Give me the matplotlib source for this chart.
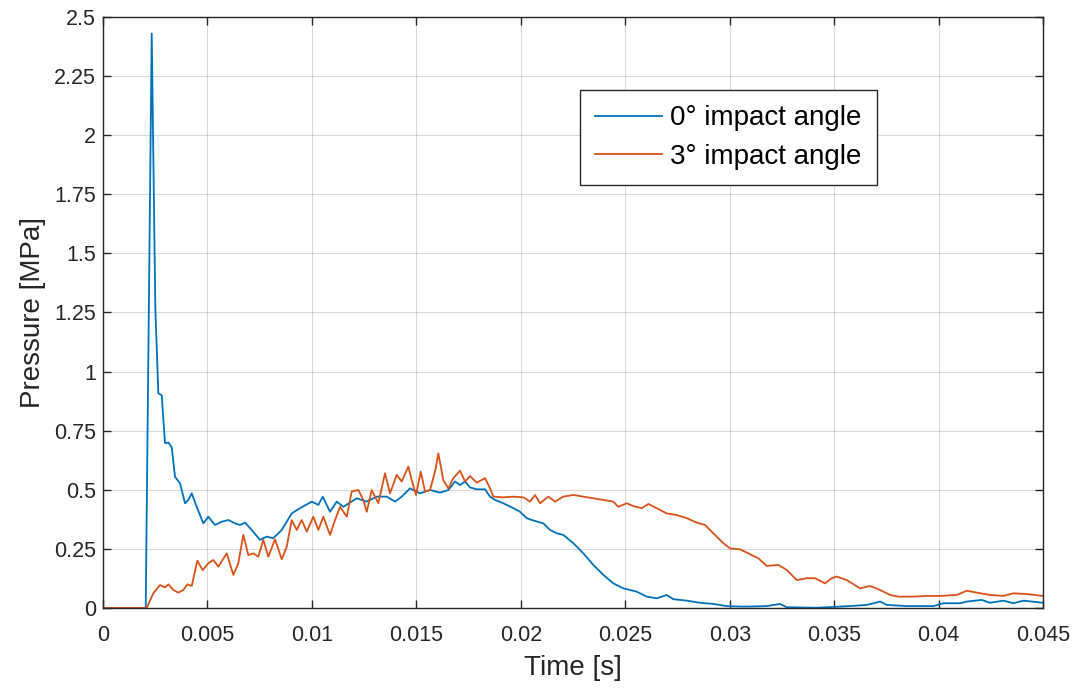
import numpy as np
import matplotlib
matplotlib.use("Agg")
import matplotlib.pyplot as plt
from matplotlib.ticker import FuncFormatter

# Pressure traces (time in s, pressure in MPa)
t_0deg = [0.0, 0.002044, 0.002331, 0.002504, 0.002647, 0.00281, 0.002968, 0.003126,
          0.003289, 0.003447, 0.003686, 0.003926, 0.004084, 0.004246, 0.004486, 0.004802,
          0.005041, 0.005362, 0.005682, 0.006, 0.006319, 0.006559, 0.006798, 0.007119,
          0.007516, 0.007837, 0.008153, 0.008555, 0.009033, 0.009431, 0.009991, 0.010307,
          0.010518, 0.010867, 0.011188, 0.011504, 0.012145, 0.012624, 0.013103, 0.013581,
          0.013979, 0.0143, 0.014697, 0.015176, 0.015654, 0.016133, 0.01653, 0.016851,
          0.01709, 0.01733, 0.017569, 0.01789, 0.018287, 0.018527, 0.018766, 0.019163,
          0.019642, 0.019963, 0.020284, 0.0206, 0.021079, 0.021399, 0.02172, 0.022036,
          0.022515, 0.022993, 0.023472, 0.023951, 0.024429, 0.024908, 0.025549, 0.026028,
          0.026507, 0.026985, 0.027302, 0.027943, 0.02858, 0.029216, 0.029858, 0.030495,
          0.030973, 0.031773, 0.03241, 0.03273, 0.034166, 0.035765, 0.03656, 0.037197,
          0.037517, 0.038475, 0.039748, 0.040227, 0.041026, 0.041347, 0.042065, 0.042463,
          0.0431, 0.043578, 0.044057, 0.045]
p_0deg = [0.0, 0.0, 2.43, 1.27, 0.908, 0.90, 0.697, 0.70,
          0.68, 0.555, 0.527, 0.443, 0.457, 0.485, 0.428, 0.358,
          0.386, 0.351, 0.365, 0.372, 0.358, 0.351, 0.361, 0.33,
          0.288, 0.302, 0.295, 0.33, 0.40, 0.422, 0.45, 0.436,
          0.471, 0.407, 0.45, 0.428, 0.464, 0.45, 0.471, 0.471,
          0.45, 0.471, 0.506, 0.485, 0.499, 0.488, 0.499, 0.535,
          0.52, 0.535, 0.51, 0.502, 0.502, 0.471, 0.457, 0.443,
          0.422, 0.407, 0.38, 0.37, 0.358, 0.33, 0.316, 0.309,
          0.274, 0.231, 0.182, 0.14, 0.104, 0.083, 0.069, 0.048,
          0.041, 0.055, 0.037, 0.031, 0.022, 0.017, 0.008, 0.006,
          0.006, 0.008, 0.017, 0.003, 0.001, 0.008, 0.013, 0.027,
          0.013, 0.008, 0.008, 0.02, 0.02, 0.027, 0.034, 0.022,
          0.031, 0.02, 0.031, 0.022]

t_3deg = [0.0, 0.002092, 0.002408, 0.002729, 0.002968, 0.003126, 0.003365, 0.003605,
          0.003844, 0.004036, 0.004246, 0.004514, 0.004773, 0.005041, 0.00528, 0.00552,
          0.005922, 0.006238, 0.006477, 0.006716, 0.006956, 0.007195, 0.007435, 0.007674,
          0.007913, 0.008234, 0.008555, 0.008794, 0.009033, 0.009273, 0.009512, 0.009752,
          0.010068, 0.010307, 0.010546, 0.010867, 0.011106, 0.011346, 0.011667, 0.011906,
          0.012222, 0.012461, 0.012624, 0.012863, 0.013179, 0.0135, 0.013739, 0.01406,
          0.0143, 0.014616, 0.014778, 0.014984, 0.015209, 0.015415, 0.015654, 0.015894,
          0.016052, 0.016291, 0.01653, 0.01677, 0.01709, 0.01733, 0.017569, 0.01789,
          0.018287, 0.018527, 0.018685, 0.019163, 0.019642, 0.020121, 0.020441, 0.020681,
          0.02092, 0.021317, 0.021638, 0.022036, 0.022515, 0.022993, 0.023472, 0.023951,
          0.024429, 0.024669, 0.025071, 0.025387, 0.025789, 0.026105, 0.026507, 0.026985,
          0.027464, 0.027943, 0.028422, 0.028819, 0.029216, 0.029695, 0.030016, 0.030495,
          0.030892, 0.031371, 0.031773, 0.032328, 0.03273, 0.033209, 0.033688, 0.034085,
          0.034564, 0.034885, 0.035124, 0.035603, 0.03624, 0.036718, 0.037197, 0.037675,
          0.038073, 0.038791, 0.039432, 0.040069, 0.040869, 0.041347, 0.041826, 0.042463,
          0.0431, 0.043578, 0.044218, 0.045]
p_3deg = [0.0, 0.0, 0.062, 0.097, 0.087, 0.10, 0.076, 0.065,
          0.076, 0.10, 0.093, 0.20, 0.16, 0.189, 0.203, 0.175,
          0.231, 0.14, 0.189, 0.309, 0.224, 0.231, 0.217, 0.288,
          0.217, 0.29, 0.206, 0.259, 0.372, 0.33, 0.372, 0.323,
          0.386, 0.33, 0.386, 0.309, 0.372, 0.428, 0.386, 0.493,
          0.499, 0.457, 0.407, 0.499, 0.443, 0.57, 0.485, 0.563,
          0.535, 0.598, 0.541, 0.478, 0.577, 0.493, 0.499, 0.577,
          0.654, 0.541, 0.506, 0.549, 0.581, 0.535, 0.558, 0.53,
          0.549, 0.506, 0.471, 0.468, 0.471, 0.468, 0.45, 0.478,
          0.443, 0.471, 0.45, 0.471, 0.478, 0.471, 0.464, 0.457,
          0.45, 0.428, 0.443, 0.431, 0.422, 0.44, 0.422, 0.40,
          0.393, 0.38, 0.361, 0.351, 0.316, 0.274, 0.252, 0.248,
          0.231, 0.21, 0.178, 0.182, 0.161, 0.118, 0.126, 0.126,
          0.104, 0.126, 0.133, 0.118, 0.083, 0.093, 0.076, 0.055,
          0.048, 0.048, 0.051, 0.051, 0.055, 0.073, 0.065, 0.055,
          0.051, 0.062, 0.059, 0.051]

series_labels = ["0\u00b0 impact angle", "3\u00b0 impact angle"]
x_ticks = np.arange(0, 0.0451, 0.005)
y_ticks = np.arange(0, 2.51, 0.25)

plt.rcParams['font.family'] = ['Liberation Sans', 'DejaVu Sans']
dark = '#262626'

fig = plt.figure(figsize=(10.72, 6.89), dpi=100)
ax = fig.add_axes([0.0961, 0.1176, 0.8769, 0.8577])

ax.plot(t_0deg, p_0deg, color='#0072BD', linewidth=1.3, label=series_labels[0])
ax.plot(t_3deg, p_3deg, color='#D95319', linewidth=1.3, label=series_labels[1])

ax.set_xlim(0, 0.045)
ax.set_ylim(0, 2.5)
ax.set_xticks(x_ticks)
ax.set_yticks(y_ticks)
fmt = FuncFormatter(lambda v, pos: f"{v:g}")
ax.xaxis.set_major_formatter(fmt)
ax.yaxis.set_major_formatter(fmt)

ax.grid(True, color='#000000', alpha=0.15, linewidth=0.8)
ax.set_axisbelow(True)
ax.tick_params(direction='in', length=6, width=1.0, colors=dark, labelsize=15.5,
               top=True, right=True, pad=5)
ax.tick_params(axis='x', pad=12)
for s in ax.spines.values():
    s.set_color(dark)
    s.set_linewidth(1.0)

ax.set_xlabel('Time [s]', fontsize=20, color=dark, labelpad=7)
ax.set_ylabel('Pressure [MPa]', fontsize=20, color=dark, labelpad=6)

leg = ax.legend(loc='upper left', bbox_to_anchor=(0.507, 0.8765), fontsize=20,
                fancybox=False, framealpha=1, edgecolor=dark, handlelength=2.4,
                borderpad=0.55, labelspacing=0.45, handletextpad=0.3, borderaxespad=0)
leg.get_frame().set_linewidth(1.0)

fig.savefig('out.png', dpi=100)
